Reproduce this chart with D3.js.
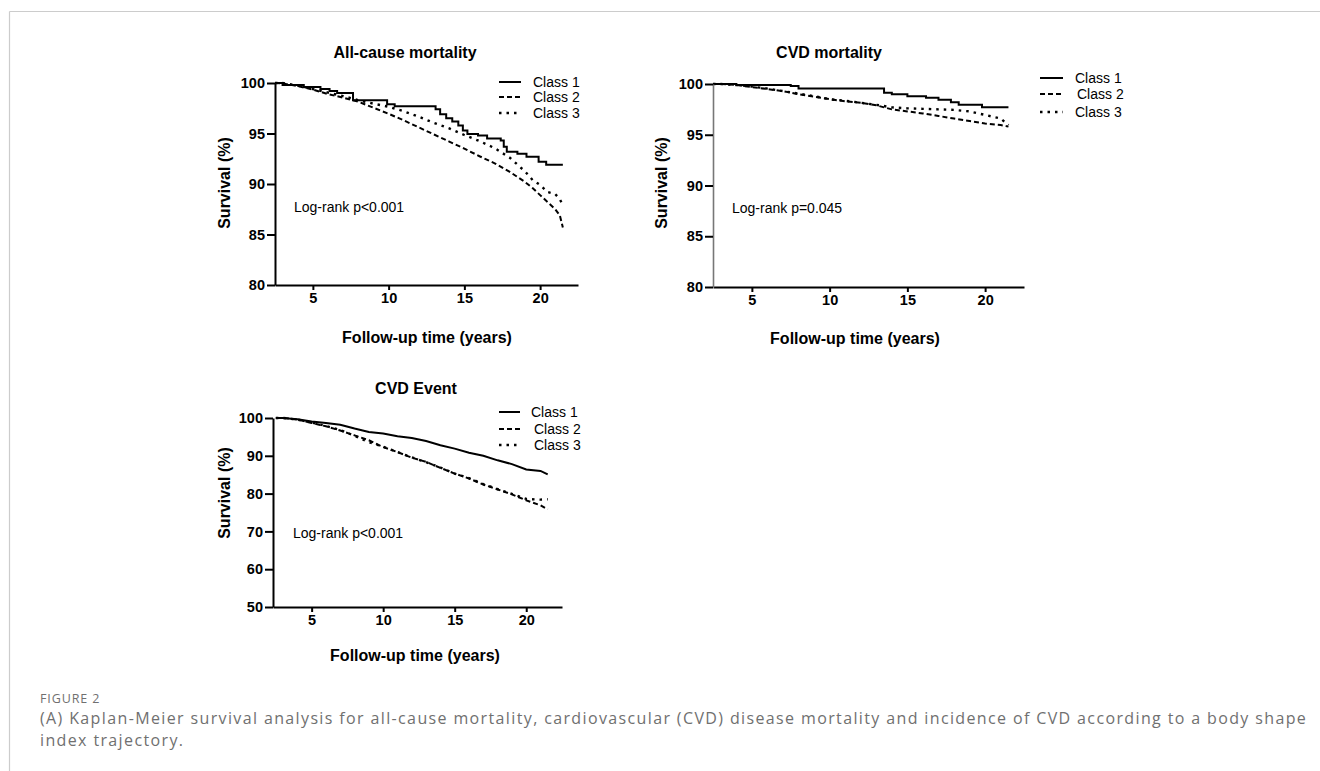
<!DOCTYPE html>
<html>
<head>
<meta charset="utf-8">
<script src="https://cdn.jsdelivr.net/npm/d3@7"></script>
<style>
  body { margin: 0; background: #fff; }
  svg text { font-family: "Liberation Sans", Arial, sans-serif; }
  .caption { font-family: "Open Sans", "Noto Sans", sans-serif; fill: #707070; }
</style>
</head>
<body>
<div id="chart"></div>
<script>
// data
const classes = ["Class 1", "Class 2", "Class 3"];

// all-cause mortality
const allcause_c1_time = [2.5, 3.0, 4.4, 5.5, 6.1, 6.6, 7.65, 9.9, 10.4, 13.1, 13.4, 13.8, 14.2, 14.6, 14.9, 15.2, 15.9, 16.5, 17.4, 17.6, 17.8, 18.5, 19.1, 19.9, 20.4, 21.5];
const allcause_c1_surv = [100, 99.8, 99.6, 99.4, 99.2, 99.0, 98.3, 97.9, 97.7, 97.4, 96.9, 96.5, 96.2, 95.8, 95.3, 94.95, 94.8, 94.5, 94.3, 93.7, 93.2, 93.0, 92.7, 92.2, 91.9, 91.9];
const allcause_time = [2.5, 3, 4, 5, 6, 7, 8, 9, 10, 11, 12, 13, 14, 15, 16, 17, 18, 19, 19.5, 20, 20.5, 21, 21.3, 21.5];
const allcause_c2_surv = [100, 99.95, 99.7, 99.35, 98.9, 98.55, 98.15, 97.55, 96.95, 96.3, 95.6, 94.9, 94.2, 93.5, 92.75, 92.05, 91.2, 90.2, 89.6, 88.9, 88.2, 87.5, 86.9, 85.7];
const allcause_c3_surv = [100, 100, 99.75, 99.4, 99.05, 98.7, 98.3, 97.95, 97.65, 97.2, 96.65, 96.05, 95.5, 94.85, 94.25, 93.55, 92.6, 91.25, 90.4, 89.9, 89.2, 89.0, 88.5, 87.9];

// CVD mortality
const cvdmort_c1_time = [2.5, 4.0, 7.5, 8.0, 13.3, 13.5, 14.0, 15.0, 16.2, 17.0, 17.8, 18.3, 19.8, 21.5];
const cvdmort_c1_surv = [100, 99.9, 99.8, 99.55, 99.55, 99.15, 99.0, 98.8, 98.65, 98.45, 98.2, 97.95, 97.7, 97.7];
const cvdmort_time = [2.5, 3, 4, 5, 6, 7, 8, 9, 10, 11, 12, 13, 14, 15, 16, 17, 18, 19, 20, 21, 21.5];
const cvdmort_c2_surv = [100, 100, 99.9, 99.7, 99.5, 99.3, 99.0, 98.75, 98.5, 98.3, 98.15, 97.9, 97.5, 97.3, 97.1, 96.85, 96.6, 96.35, 96.1, 95.95, 95.8];
const cvdmort_c3_surv = [100, 100, 99.9, 99.75, 99.55, 99.3, 99.05, 98.8, 98.5, 98.35, 98.15, 97.95, 97.7, 97.6, 97.55, 97.5, 97.45, 97.3, 96.95, 96.6, 95.95];

// CVD event
const cvdevent_time = [2.5, 3, 4, 5, 6, 7, 8, 9, 10, 11, 12, 13, 14, 15, 16, 17, 18, 19, 20, 21, 21.5];
const cvdevent_c1_surv = [100, 100, 99.65, 99.1, 98.7, 98.2, 97.2, 96.3, 95.9, 95.2, 94.7, 93.9, 92.8, 91.9, 90.8, 90.0, 88.8, 87.8, 86.4, 86.0, 85.1];
const cvdevent_c2_surv = [100, 100, 99.6, 98.7, 97.8, 96.7, 95.4, 94.1, 92.3, 91.0, 89.5, 88.4, 86.8, 85.3, 84.0, 82.4, 81.1, 79.8, 78.2, 76.9, 75.8];
const cvdevent_c3_surv = [100, 100, 99.6, 98.8, 97.9, 96.8, 95.3, 93.6, 92.4, 91.0, 89.6, 88.3, 86.9, 85.3, 84.1, 82.5, 81.2, 79.9, 78.6, 78.4, 78.5];

const x_ticks = [5, 10, 15, 20];
const y_ticks_mort = [80, 85, 90, 95, 100];
const y_ticks_event = [50, 60, 70, 80, 90, 100];

const zip = (t, s) => t.map((d, i) => ({t: d, s: s[i]}));

// panel layouts (pixels)
const panels = [
  {
    title: "All-cause mortality", logrank: "Log-rank p<0.001",
    left: 275, right: 578, top: 83, bottom: 285,
    xdom: [2.5, 22.5], ydom: [80, 100], yticks: y_ticks_mort,
    titleX: 405, titleY: 58, ylabX: 230, ylabY: 183, xlabX: 427, xlabY: 343,
    lrX: 294, lrY: 212,
    legX1: 499, legX2: 521, legTX: [533, 533, 533], legY: [82, 97, 113],
    series: [zip(allcause_c1_time, allcause_c1_surv), zip(allcause_time, allcause_c2_surv), zip(allcause_time, allcause_c3_surv)],
    step1: true, yGray: false
  },
  {
    title: "CVD mortality", logrank: "Log-rank p=0.045",
    left: 713, right: 1024, top: 84, bottom: 287,
    xdom: [2.5, 22.5], ydom: [80, 100], yticks: y_ticks_mort,
    titleX: 829, titleY: 58, ylabX: 667, ylabY: 183, xlabX: 855, xlabY: 344,
    lrX: 732, lrY: 213,
    legX1: 1040, legX2: 1063, legTX: [1075, 1077, 1075], legY: [78, 94, 112],
    series: [zip(cvdmort_c1_time, cvdmort_c1_surv), zip(cvdmort_time, cvdmort_c2_surv), zip(cvdmort_time, cvdmort_c3_surv)],
    step1: true, yGray: true
  },
  {
    title: "CVD Event", logrank: "Log-rank p<0.001",
    left: 273, right: 562, top: 418, bottom: 607,
    xdom: [2.3, 22.5], ydom: [50, 100], yticks: y_ticks_event,
    titleX: 416, titleY: 394, ylabX: 230, ylabY: 493, xlabX: 415, xlabY: 661,
    lrX: 293, lrY: 538,
    legX1: 499, legX2: 520, legTX: [531, 534, 534], legY: [412, 429, 445],
    series: [zip(cvdevent_time, cvdevent_c1_surv), zip(cvdevent_time, cvdevent_c2_surv), zip(cvdevent_time, cvdevent_c3_surv)],
    step1: false, yGray: false
  }
];

const dashes = [null, "5,3", "2.5,5"];

const svg = d3.select("#chart").append("svg")
  .attr("width", 1320)
  .attr("height", 771);

// page frame
svg.append("line").attr("x1", 9.5).attr("x2", 1320).attr("y1", 11.5).attr("y2", 11.5)
  .attr("stroke", "#cccccc").attr("stroke-width", 1.2);
svg.append("line").attr("x1", 9.5).attr("x2", 9.5).attr("y1", 11.5).attr("y2", 771)
  .attr("stroke", "#cccccc").attr("stroke-width", 1.2);

panels.forEach(p => {
  const x = d3.scaleLinear().domain(p.xdom).range([p.left, p.right]);
  const y = d3.scaleLinear().domain(p.ydom).range([p.bottom, p.top]);
  const g = svg.append("g");

  // curves
  p.series.forEach((pts, i) => {
    const line = d3.line()
      .x(d => x(d.t))
      .y(d => y(d.s))
      .curve(i === 0 && p.step1 ? d3.curveStepAfter : d3.curveLinear);
    g.append("path")
      .datum(pts)
      .attr("d", line)
      .attr("fill", "none")
      .attr("stroke", "#000")
      .attr("stroke-width", i === 2 ? 2.4 : 2)
      .attr("stroke-dasharray", dashes[i]);
  });

  // axes
  const xa = g.append("g")
    .attr("transform", `translate(0,${p.bottom})`)
    .call(d3.axisBottom(x).tickValues(x_ticks).tickSize(5).tickSizeOuter(0).tickPadding(3));
  const ya = g.append("g")
    .attr("transform", `translate(${p.left},0)`)
    .call(d3.axisLeft(y).tickValues(p.yticks).tickSize(8).tickSizeOuter(0).tickPadding(2));
  [xa, ya].forEach(a => {
    a.select(".domain").attr("stroke-width", 2);
    a.selectAll(".tick line").attr("stroke-width", 2);
    a.selectAll(".tick text")
      .style("font-family", '"Liberation Sans", Arial, sans-serif')
      .style("font-size", "14.5px")
      .style("font-weight", "bold")
      .attr("fill", "#000");
  });
  if (p.yGray) ya.select(".domain").attr("stroke", "#777").attr("stroke-width", 1.6);

  // title
  g.append("text").text(p.title)
    .attr("x", p.titleX).attr("y", p.titleY)
    .attr("text-anchor", "middle")
    .style("font-size", "16px").style("font-weight", "bold");

  // y axis label
  g.append("text").text("Survival (%)")
    .attr("transform", `translate(${p.ylabX},${p.ylabY}) rotate(-90)`)
    .attr("text-anchor", "middle")
    .style("font-size", "16px").style("font-weight", "bold");

  // x axis label
  g.append("text").text("Follow-up time (years)")
    .attr("x", p.xlabX).attr("y", p.xlabY)
    .attr("text-anchor", "middle")
    .style("font-size", "16px").style("font-weight", "bold");

  // log-rank
  g.append("text").text(p.logrank)
    .attr("x", p.lrX).attr("y", p.lrY)
    .style("font-size", "14px");

  // legend
  classes.forEach((c, i) => {
    g.append("line")
      .attr("x1", p.legX1).attr("x2", p.legX2)
      .attr("y1", p.legY[i]).attr("y2", p.legY[i])
      .attr("stroke", "#000").attr("stroke-width", i === 2 ? 2.4 : 2)
      .attr("stroke-dasharray", dashes[i]);
    g.append("text").text(c)
      .attr("x", p.legTX[i]).attr("y", p.legY[i] + 5)
      .style("font-size", "14px");
  });
});

// caption
svg.append("text").attr("class", "caption")
  .attr("x", 40).attr("y", 703)
  .style("font-size", "12.5px")
  .style("letter-spacing", "0.9px")
  .text("FIGURE 2");
svg.append("text").attr("class", "caption")
  .attr("x", 40).attr("y", 724)
  .style("font-size", "16px")
  .style("letter-spacing", "1.37px")
  .text("(A) Kaplan-Meier survival analysis for all-cause mortality, cardiovascular (CVD) disease mortality and incidence of CVD according to a body shape");
svg.append("text").attr("class", "caption")
  .attr("x", 40).attr("y", 746)
  .style("font-size", "16px")
  .style("letter-spacing", "1.37px")
  .text("index trajectory.");
</script>
</body>
</html>
